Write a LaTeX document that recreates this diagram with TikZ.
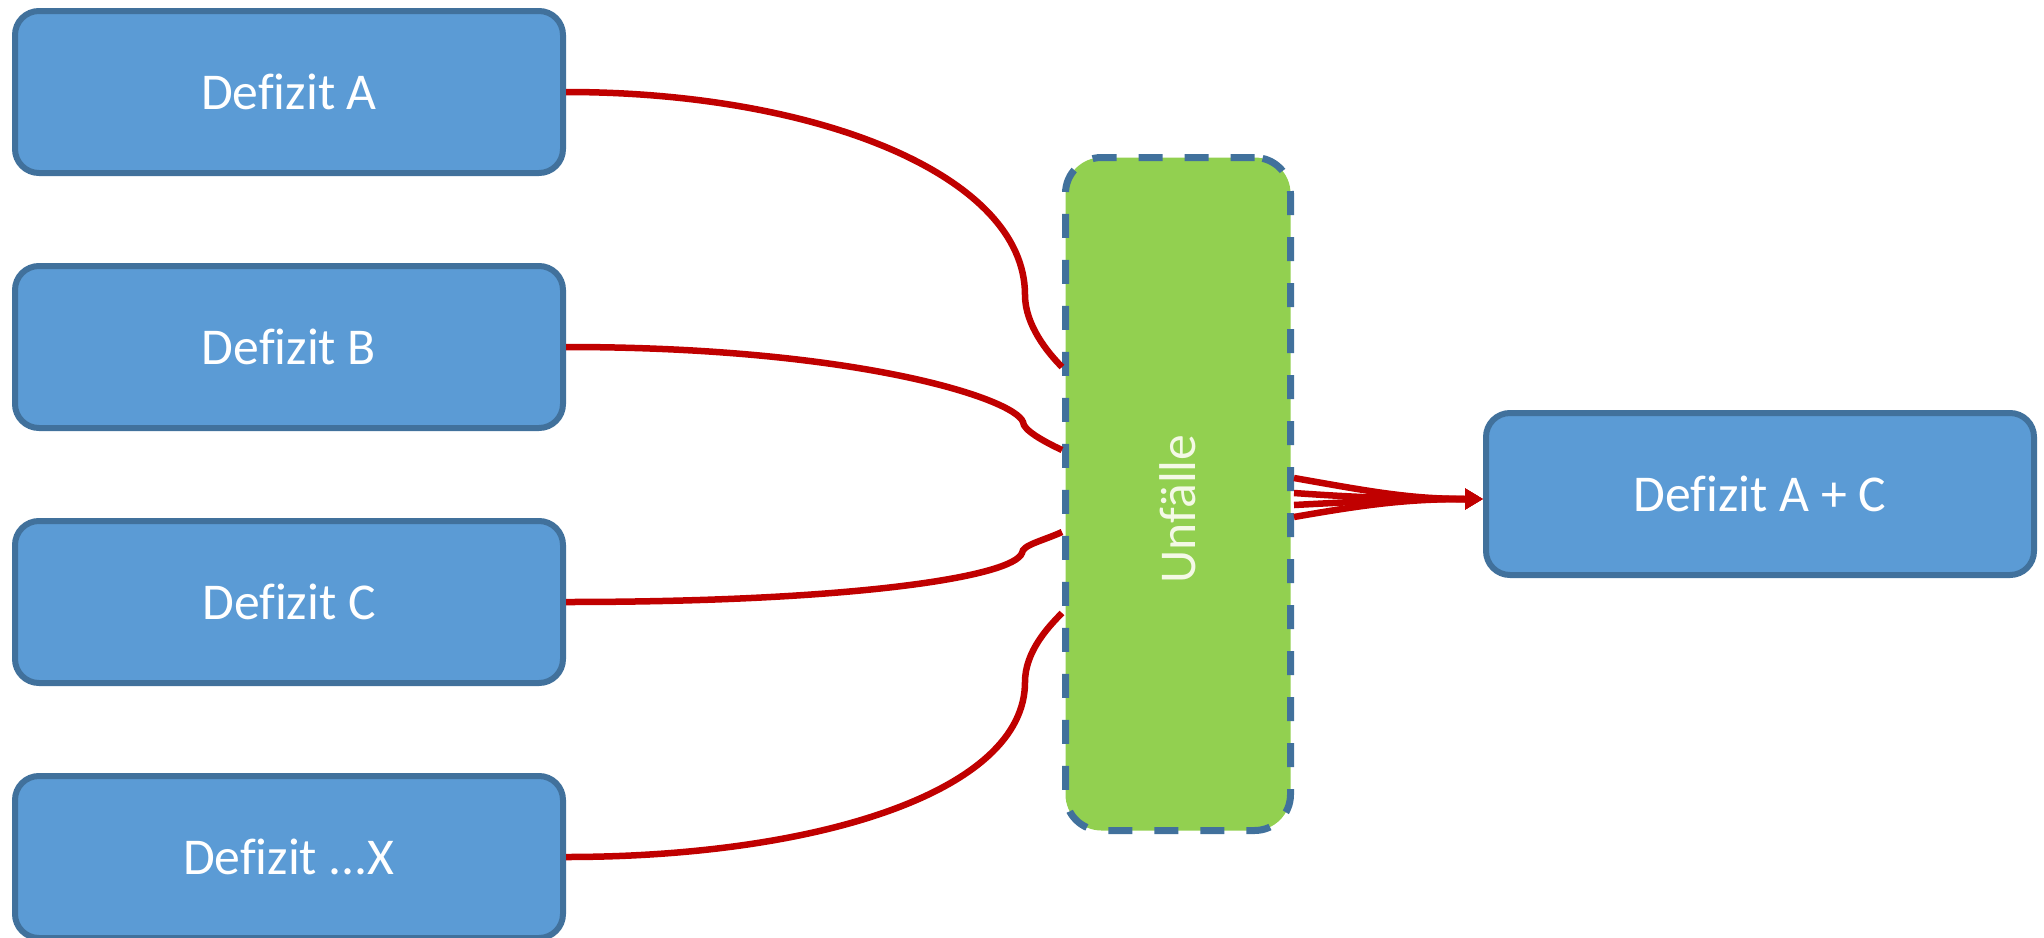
\documentclass[tikz,border=0pt]{standalone}
\usepackage{fontspec}
\setmainfont[Ligatures=NoCommon]{Carlito}
\usepackage{graphicx}
\usetikzlibrary{positioning,arrows.meta}
\definecolor{boxblue}{HTML}{5B9BD5}
\definecolor{boxline}{HTML}{41719C}
\definecolor{hubgreen}{HTML}{92D050}
\definecolor{hubtext}{HTML}{F4F9E6}
\definecolor{linkred}{HTML}{C00000}

\begin{document}
\begin{tikzpicture}[
    node distance=0.87cm,
    deficit/.style={rectangle, rounded corners=0.24cm, draw=boxline, line width=0.06cm, fill=boxblue, minimum width=5.48cm, minimum height=1.62cm, text=white, font=\fontsize{14.7}{18}\selectfont},
    hub/.style={rectangle, rounded corners=0.36cm, draw=boxline, line width=0.07cm, dash pattern=on 0.24cm off 0.22cm, fill=hubgreen, minimum width=2.25cm, minimum height=6.73cm, text=hubtext, font=\fontsize{14.7}{18}\selectfont},
    link/.style={draw=linkred, line width=0.065cm},
    merge/.style={link, -{Triangle[length=0.18cm, width=0.2cm]}}
]
\useasboundingbox (0,0) rectangle (20.44,9.37);

\node[deficit] (defA) at (2.89,8.45) {Defizit A};
\node[deficit, below=of defA] (defB) {Defizit B};
\node[deficit, below=of defB] (defC) {Defizit C};
\node[deficit, below=of defC] (defX) {Defizit ...X};

\node[hub] (unf) at (11.78,4.43) {\rotatebox{90}{Unfälle\hspace*{0.3cm}}};
\node[deficit, right=1.89cm of unf] (res) {Defizit A + C};

\draw[link] (defA.east) to[out=0, in=90, out distance=2.5cm, in distance=1.2cm] ++(4.59,-2.03) to[out=-90, in=135, out distance=0.3cm, in distance=0.2cm] ([yshift=1.27cm]unf.west);
\draw[link] (defB.east) to[out=0, in=110, out distance=2.9cm, in distance=0.25cm] ++(4.57,-0.75) to[out=-90, in=155, out distance=0.08cm, in distance=0.2cm] ([yshift=0.44cm]unf.west);
\draw[link] (defC.east) to[out=0, in=-110, out distance=2.9cm, in distance=0.25cm] ++(4.56,0.49) to[out=90, in=-155, out distance=0.08cm, in distance=0.2cm] ([yshift=-0.38cm]unf.west);
\draw[link] (defX.east) to[out=0, in=-90, out distance=2.5cm, in distance=1.1cm] ++(4.59,1.75) to[out=90, in=-135, out distance=0.3cm, in distance=0.2cm] ([yshift=-1.19cm]unf.west);

\draw[merge] ([yshift=0.16cm]unf.east) to[out=-10, in=180] ([yshift=-0.05cm]res.west);
\draw[merge] ([yshift=0.01cm]unf.east) to[out=-4, in=180] ([yshift=-0.05cm]res.west);
\draw[merge] ([yshift=-0.11cm]unf.east) to[out=3, in=180] ([yshift=-0.05cm]res.west);
\draw[merge] ([yshift=-0.23cm]unf.east) to[out=10, in=180] ([yshift=-0.05cm]res.west);

\end{tikzpicture}
\end{document}
